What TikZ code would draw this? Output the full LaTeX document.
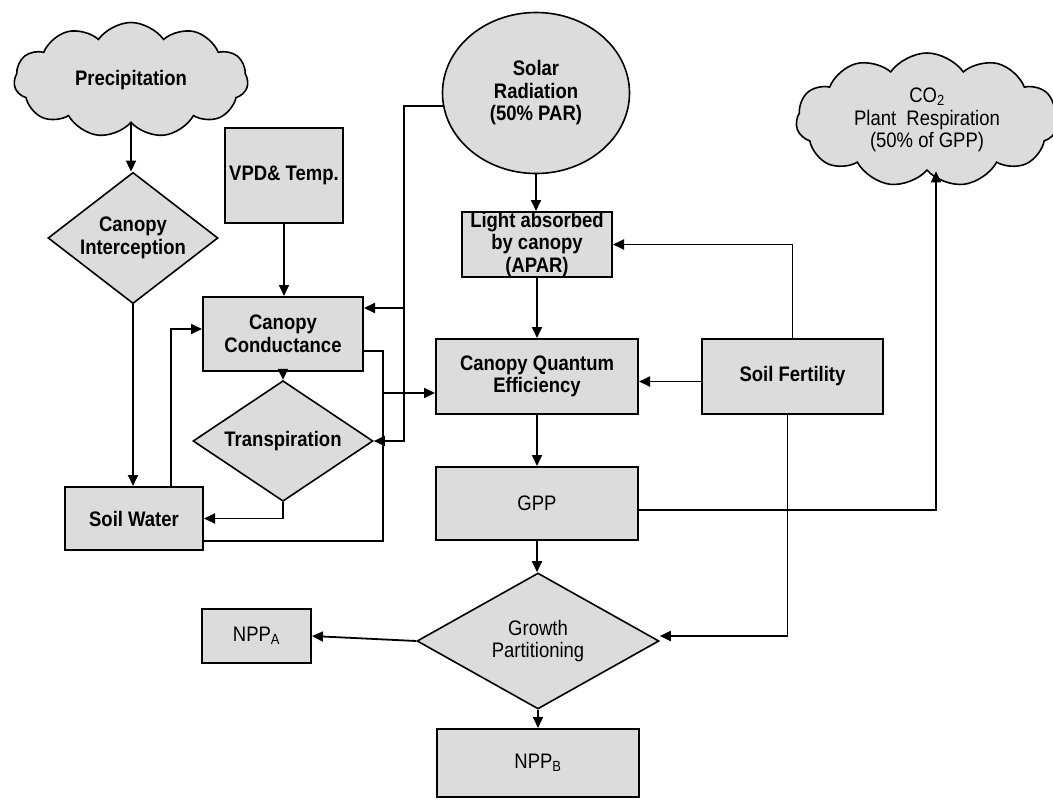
\documentclass[tikz,border=0pt]{standalone}
\usepackage{fontspec}
\setmainfont{Liberation Sans}[FakeStretch=0.88]
\usetikzlibrary{shapes.geometric,shapes.symbols,arrows.meta}
\definecolor{boxgray}{RGB}{220,220,220}
\newcommand{\diagfont}{\fontsize{21}{22.5}\selectfont}
\begin{document}
\begin{tikzpicture}[x=1pt, y=-1pt,
    box/.style={draw, fill=boxgray, line width=2pt, inner sep=0pt, align=center, font=\diagfont\bfseries},
    thinbox/.style={box, font=\diagfont},
    dia/.style={diamond, draw, fill=boxgray, line width=1.6pt, inner sep=-4pt, align=center, font=\diagfont\bfseries},
    puff/.style={cloud, cloud puffs=11, cloud puff arc=110, cloud ignores aspect, draw, fill=boxgray, line width=1.6pt, inner sep=0pt, align=center, font=\diagfont\bfseries},
    link/.style={-{Triangle[length=11pt,width=10pt]}, line width=1.8pt}]
    \clip (0,0) rectangle (1053,800);
    \node[puff, minimum width=234pt, minimum height=115pt] (precip) at (131,80) {Precipitation};
    \node[dia, minimum width=170pt, minimum height=95pt] (intercept) at (133,238) {Canopy\\Interception};
    \node[box, minimum width=138pt, minimum height=63pt] (soilw) at (134,518.5) {Soil Water};
    \node[box, minimum width=118pt, minimum height=95pt] (vpd) at (284,175.5) {VPD\& Temp.};
    \node[box, minimum width=160pt, minimum height=74pt] (cond) at (283,334) {Canopy\\Conductance};
    \node[dia, minimum width=180pt, minimum height=95pt] (transp) at (283,441) {Transpiration};
    \node[ellipse, draw, fill=boxgray, line width=1.6pt, inner sep=0pt, align=center, font=\diagfont\bfseries,
          minimum width=187pt, minimum height=161pt] (solar) at (536,93) {Solar\\Radiation\\(50\% PAR)};
    \node[box, minimum width=150pt, minimum height=65pt] (apar) at (537,244.5) {Light absorbed\\by canopy\\(APAR)};
    \node[box, minimum width=202pt, minimum height=75pt] (cqe) at (537,376.5) {Canopy Quantum\\Efficiency};
    \node[thinbox, minimum width=202pt, minimum height=73pt] (gpp) at (537,503.5) {GPP};
    \node[box, minimum width=181pt, minimum height=75pt] (soilf) at (792.5,376.5) {Soil Fertility};
    \node[puff, font=\diagfont, minimum width=262pt, minimum height=134pt] (co2) at (927,120)
          {CO\textsubscript{2}\\Plant~~Respiration\\(50\% of GPP)};
    \node[dia, font=\diagfont, minimum width=242pt, minimum height=136pt] (growth) at (538,641) {Growth\\Partitioning};
    \node[thinbox, minimum width=109pt, minimum height=54pt] (nppa) at (256.5,636) {NPP\textsubscript{A}};
    \node[thinbox, minimum width=202pt, minimum height=68pt] (nppb) at (538,763) {NPP\textsubscript{B}};
    \coordinate (ssplit) at (404,308);
    \coordinate (wsplit) at (383,393);
    \foreach \a/\b in {precip/intercept, intercept/soilw, vpd/cond, cond/transp, solar/apar, apar/cqe, cqe/gpp, gpp/growth, growth/nppb}
        \draw[link] (\a.south) -- (\a.south |- \b.north);
    \draw[link, line width=2.2pt] (solar.188) -| (ssplit) |- (transp.east);
    \draw[link, line width=2.2pt] (ssplit) -- (ssplit -| cond.east);
    \draw[link] ([xshift=37pt]soilw.north) |- ([yshift=5pt]cond.west);
    \draw[link] (transp.south) |- (soilw.east);
    \draw[line width=1.8pt] ([yshift=-17pt]cond.east) -| (wsplit) |- ([yshift=-22.5pt]soilw.east);
    \draw[link] (wsplit) -- (wsplit -| cqe.west);
    \draw[link] ([yshift=-5pt]soilf.west) -- ([yshift=-5pt]cqe.east);
    \draw[link] (soilf.north) |- (apar.east);
    \draw[link] ([yshift=-6.5pt]gpp.east) -| ([xshift=9pt]co2.south);
    \draw[link] ([xshift=-5pt]soilf.south) |- ([yshift=5pt]growth.east);
    \draw[link] (growth.west) -- (nppa.east);
\end{tikzpicture}
\end{document}
